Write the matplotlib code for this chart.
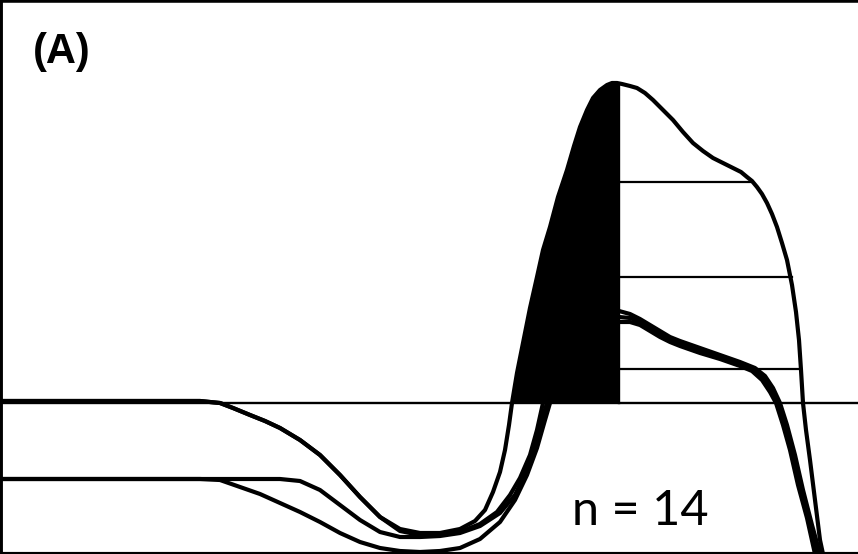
import matplotlib
matplotlib.use("Agg")
import matplotlib.pyplot as plt

# Traces (pixel space: x to the right, y downwards)
trace1_x = [0, 100, 200, 220, 233, 250, 265, 280, 300, 320, 340, 360, 380, 400, 420, 440, 460, 475, 485, 493, 500, 505, 509, 512,
            517, 523, 530, 537, 543, 550, 558, 567, 574, 580, 587, 593, 600, 607, 612, 617, 622, 630, 637, 645, 653, 663, 673,
            683, 693, 703, 713, 723, 733, 741, 747, 752, 757, 762, 767, 772, 777, 782, 787, 792, 796, 799, 801, 803,
            806, 810, 815, 820, 823]
trace1_y = [401, 401, 401, 403, 408, 415, 421, 428, 440, 455, 475, 497, 517, 529, 533, 533, 529, 521, 510, 492, 472, 450, 425, 403,
            373, 343, 308, 277, 250, 227, 197, 170, 146, 127, 110, 98, 90, 85, 83, 83, 84, 86, 88, 93, 100, 110, 120,
            132, 143, 151, 158, 163, 168, 172, 177, 181, 187, 194, 203, 214, 227, 243, 260, 285, 312, 340, 370, 403,
            430, 460, 500, 540, 554]

trace2_x = [0, 100, 200, 220, 233, 250, 265, 280, 300, 320, 340, 360, 380, 400, 420, 440, 460, 480, 497, 510, 520, 530, 537, 543,
            560, 580, 600, 619, 630, 640, 650, 660, 670, 680, 700, 720, 740, 755, 765, 773, 780, 787, 795, 803, 812, 820]
trace2_y = [401, 401, 401, 403, 408, 415, 421, 428, 440, 455, 475, 497, 517, 531, 535, 535, 532, 524, 512, 495, 478, 455, 430, 403,
            350, 325, 314, 311, 314, 319, 325, 331, 337, 341, 348, 355, 362, 368, 376, 388, 403, 425, 455, 490, 525, 554]

trace3_x = [0, 100, 200, 280, 300, 320, 340, 360, 380, 400, 420, 440, 460, 480, 500, 515, 527, 535, 542, 547,
            560, 580, 600, 619, 630, 640, 650, 660, 670, 680, 700, 720, 740, 752, 762, 770, 776, 783, 790, 798, 807, 815]
trace3_y = [479, 479, 479, 479, 481, 490, 505, 520, 532, 537, 537, 536, 533, 526, 513, 495, 470, 447, 420, 403,
            370, 340, 325, 322, 322, 325, 331, 337, 342, 346, 353, 359, 366, 371, 380, 392, 403, 425, 450, 485, 518, 554]

trace4_x = [0, 100, 200, 220, 240, 260, 280, 300, 320, 340, 360, 380, 400, 420, 440, 460, 480, 500, 515, 527, 537, 545, 550,
            565, 585, 605, 619, 630, 640, 650, 660, 670, 680, 700, 720, 740, 754, 764, 771, 778, 785, 792, 800, 809, 817]
trace4_y = [479, 479, 479, 480, 487, 494, 503, 512, 522, 533, 542, 548, 551, 552, 551, 548, 539, 522, 500, 475, 448, 420, 403,
            365, 335, 320, 317, 318, 322, 328, 334, 340, 344, 351, 357, 364, 370, 378, 390, 403, 425, 452, 487, 521, 554]

# black area under the rising edge, up to the peak
fill_x = [509, 512, 517, 523, 530, 537, 543, 550, 558, 567, 574, 580, 587, 593, 600, 607, 612, 617, 619, 619]
fill_y = [403, 403, 373, 343, 308, 277, 250, 227, 197, 170, 146, 127, 110, 98, 90, 85, 83, 83, 84, 403]

baseline_y = 403
level_y = [182, 277, 369]
level_end_x = [752, 792, 801]
split_x = 619

fig = plt.figure(figsize=(8.58, 5.54), dpi=100)
ax = fig.add_axes([0, 0, 1, 1])
ax.set_xlim(0, 858)
ax.set_ylim(554, 0)

ax.axhline(baseline_y, color="black", lw=1.7, zorder=1)

for tx, ty in [(trace4_x, trace4_y), (trace3_x, trace3_y), (trace2_x, trace2_y), (trace1_x, trace1_y)]:
    ax.plot(tx, ty, color="black", lw=3.0, solid_capstyle="round", solid_joinstyle="round", zorder=2)

ax.fill(fill_x, fill_y, color="black", lw=0, zorder=3)
ax.plot([split_x, split_x], [fill_y[-2], baseline_y], color="black", lw=1.7, zorder=3)

for y, xe in zip(level_y, level_end_x):
    ax.plot([split_x, xe], [y, y], color="black", lw=1.6, zorder=1)

ax.text(33, 63, "(A)", fontsize=30, fontweight="bold", family="Liberation Sans", ha="left", va="baseline")
ax.text(572, 525, "n = 14", fontsize=35, family="Lato", ha="left", va="baseline")

ax.set_xticks([])
ax.set_yticks([])
ax.spines["right"].set_visible(False)
ax.spines["top"].set_linewidth(4)
ax.spines["left"].set_linewidth(3.5)
ax.spines["bottom"].set_linewidth(3)

fig.savefig("out.png", dpi=100)
